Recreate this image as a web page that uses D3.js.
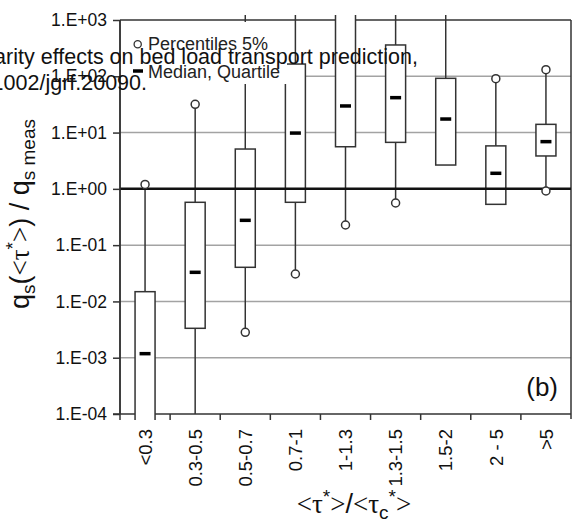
<!DOCTYPE html>
<html><head><meta charset="utf-8">
<script src="https://cdn.jsdelivr.net/npm/d3@7"></script>
<style>body{margin:0;background:#fff}svg{display:block}text{font-family:"Liberation Sans",Arial,sans-serif}</style>
</head><body>
<svg id="c" width="573" height="526"></svg>
<script>
const categories = ["<0.3","0.3-0.5","0.5-0.7","0.7-1","1-1.3","1.3-1.5","1.5-2","2 - 5",">5"];
// percentile 95% (upper whisker end), quartiles, median, percentile 5% (lower whisker end)
const p95    = [1.2, 31.8, 3000, 3000, 3000, 3000, 3000, 90.6, 131];
const q3     = [0.0149, 0.577, 5.1, 165, 3000, 360, 92, 5.8, 14.0];
const median = [0.00118, 0.0329, 0.276, 9.8, 29.7, 41.7, 17.4, 1.89, 6.9];
const q1     = [0.00001, 0.00333, 0.0404, 0.577, 5.6, 6.7, 2.65, 0.531, 3.84];
const p5     = [null, 0.00005, 0.00283, 0.0307, 0.228, 0.561, null, null, 0.916];
const yTicks = [1e-4,1e-3,1e-2,1e-1,1e0,1e1,1e2,1e3];
const legendLabels = ["Percentiles 5%","Median, Quartile"];
const captionLines = ["arity effects on bed load transport prediction,","1002/jgrf.20090."];

const svg = d3.select("#c");
const L=120, R=571, T=20, B=414;
const x = d3.scaleBand().domain(categories).range([L,R]).paddingInner(0).paddingOuter(0);
const y = d3.scaleLog().domain([1e-4,1e3]).range([B,T]);
const ink = "#333";
const fmt = d => { const e = Math.round(Math.log10(d)); return "1.E" + (e<0?"-":"+") + String(Math.abs(e)).padStart(2,"0"); };

const defs = svg.append("defs");
defs.append("clipPath").attr("id","cw").append("rect").attr("x",0).attr("y",15).attr("width",573).attr("height",B-15);
defs.append("clipPath").attr("id","cb").append("rect").attr("x",0).attr("y",15).attr("width",573).attr("height",420-15);

// grid
svg.append("g").selectAll("line").data(yTicks.filter(d=>d!==1 && d>1e-4 && d<1e3)).join("line")
  .attr("x1",L).attr("x2",R).attr("y1",d=>y(d)).attr("y2",d=>y(d))
  .attr("stroke","#a3a3a3").attr("stroke-width",1.5);

// axes
const ya = svg.append("g").attr("transform",`translate(${L},0)`)
  .call(d3.axisLeft(y).tickValues(yTicks).tickFormat(fmt).tickSize(7).tickPadding(6));
ya.select(".domain").remove();
ya.selectAll(".tick line").attr("stroke",ink).attr("stroke-width",1.5);
ya.selectAll(".tick text").attr("font-size",17.5).attr("fill","#111").attr("font-family","Liberation Sans, Arial, sans-serif");
svg.append("line").attr("x1",L).attr("x2",L).attr("y1",T).attr("y2",B+6).attr("stroke",ink).attr("stroke-width",1.5);
svg.append("line").attr("x1",L-7).attr("x2",R).attr("y1",B).attr("y2",B).attr("stroke",ink).attr("stroke-width",1.5);
svg.append("line").attr("x1",L).attr("x2",R).attr("y1",T).attr("y2",T).attr("stroke",ink).attr("stroke-width",1.5);
svg.append("line").attr("x1",R).attr("x2",R).attr("y1",T).attr("y2",B+5).attr("stroke",ink).attr("stroke-width",1.5);
// boundary ticks
svg.append("g").selectAll("line").data(categories.slice(1)).join("line")
  .attr("x1",d=>x(d)).attr("x2",d=>x(d)).attr("y1",B).attr("y2",B+6)
  .attr("stroke",ink).attr("stroke-width",1.5);
const xa = svg.append("g").attr("transform",`translate(0,${B})`)
  .call(d3.axisBottom(x).tickSize(0).tickPadding(0));
xa.select(".domain").remove();
xa.selectAll(".tick text").attr("font-size",18.5).attr("fill","#111")
  .attr("font-family","Liberation Sans, Arial, sans-serif")
  .attr("text-anchor","end").attr("transform","translate(0,15) rotate(-90)")
  .attr("x",0).attr("y",0).attr("dy","0.36em");

const data = categories.map((c,i)=>({c, hi:p95[i], q3:q3[i], med:median[i], q1:q1[i], lo:p5[i]}));
const cx = d => x(d.c) + x.bandwidth()/2;
const bw = 20;

// whiskers
const gw = svg.append("g").attr("clip-path","url(#cw)");
gw.selectAll("line.up").data(data.filter(d=>d.hi!=null)).join("line")
  .attr("x1",cx).attr("x2",cx).attr("y1",d=>y(d.hi)).attr("y2",d=>y(d.q3))
  .attr("stroke",ink).attr("stroke-width",1.5);
gw.selectAll("line.dn").data(data.filter(d=>d.lo!=null)).join("line")
  .attr("x1",cx).attr("x2",cx).attr("y1",d=>y(d.lo)).attr("y2",d=>y(d.q1))
  .attr("stroke",ink).attr("stroke-width",1.5);

// boxes
const gb = svg.append("g").attr("clip-path","url(#cb)");
gb.selectAll("rect").data(data).join("rect")
  .attr("x",d=>cx(d)-bw/2).attr("width",bw)
  .attr("y",d=>y(d.q3)).attr("height",d=>y(d.q1)-y(d.q3))
  .attr("fill","#fff").attr("stroke",ink).attr("stroke-width",1.5);

// reference line at 1
svg.append("line").attr("x1",L).attr("x2",R).attr("y1",y(1)).attr("y2",y(1)).attr("stroke","#111").attr("stroke-width",2.5);

// medians
svg.append("g").selectAll("line").data(data).join("line")
  .attr("x1",d=>cx(d)-5.5).attr("x2",d=>cx(d)+5.5).attr("y1",d=>y(d.med)).attr("y2",d=>y(d.med))
  .attr("stroke","#000").attr("stroke-width",3.5);

// percentile circles
const inDom = v => v!=null && v>=1e-4 && v<=1e3;
const circ = [];
data.forEach(d=>{ if(inDom(d.hi)) circ.push({d,v:d.hi}); if(inDom(d.lo)) circ.push({d,v:d.lo}); });
svg.append("g").selectAll("circle").data(circ).join("circle")
  .attr("cx",e=>cx(e.d)).attr("cy",e=>y(e.v)).attr("r",4)
  .attr("fill","#fff").attr("stroke",ink).attr("stroke-width",1.5);

// legend
const lg = svg.append("g");
lg.append("rect").attr("x",L+1).attr("y",T+2).attr("width",166).attr("height",62).attr("fill","#fff");
lg.append("circle").attr("cx",137.7).attr("cy",44.3).attr("r",3.6).attr("fill","#fff").attr("stroke",ink).attr("stroke-width",1.3);
lg.append("line").attr("x1",133).attr("x2",143).attr("y1",71).attr("y2",71).attr("stroke","#000").attr("stroke-width",3.5);
lg.selectAll("text").data(legendLabels).join("text")
  .attr("x",148).attr("y",(d,i)=>50+i*27.5).attr("font-size",18).attr("fill","#222").text(d=>d);

// redraw y axis line on top of legend bg
svg.append("line").attr("x1",L).attr("x2",L).attr("y1",T).attr("y2",B).attr("stroke",ink).attr("stroke-width",1.5);

// panel label
svg.append("text").attr("x",558).attr("y",396).attr("text-anchor","end").attr("font-size",26).attr("fill","#111").text("(b)");

// y axis title
const yt = svg.append("text").attr("transform","translate(29,214) rotate(-90)")
  .attr("text-anchor","middle").attr("font-size",27).attr("fill","#111");
yt.append("tspan").text("q");
yt.append("tspan").attr("font-size",19).attr("dy",6).text("s");
yt.append("tspan").attr("dy",-6).text("(");
yt.append("tspan").attr("font-family","Liberation Serif, serif").text("<τ");
yt.append("tspan").attr("font-size",19).attr("dy",-10).text("*");
yt.append("tspan").attr("dy",10).attr("font-family","Liberation Serif, serif").text(">");
yt.append("tspan").text(") / q");
yt.append("tspan").attr("font-size",19).attr("dy",6).text("s meas");

// x axis title
const xt = svg.append("text").attr("x",354).attr("y",513).attr("text-anchor","middle").attr("font-size",27).attr("fill","#111");
xt.append("tspan").attr("font-family","Liberation Serif, serif").text("<τ");
xt.append("tspan").attr("font-size",19).attr("dy",-10).text("*");
xt.append("tspan").attr("dy",10).attr("font-family","Liberation Serif, serif").text(">");
xt.append("tspan").text("/");
xt.append("tspan").attr("font-family","Liberation Serif, serif").text("<τ");
xt.append("tspan").attr("font-size",19).attr("dy",6).text("c");
xt.append("tspan").attr("font-size",19).attr("dy",-16).text("*");
xt.append("tspan").attr("dy",10).attr("font-family","Liberation Serif, serif").text(">");

// overlapping caption fragment
const capEnds = [418,147], capBase = [64,90];
svg.append("g").selectAll("text").data(captionLines).join("text")
  .attr("x",(d,i)=>capEnds[i]).attr("y",(d,i)=>capBase[i]).attr("text-anchor","end")
  .attr("font-size",21.5).attr("fill","#111").text(d=>d);
</script>
</body></html>
